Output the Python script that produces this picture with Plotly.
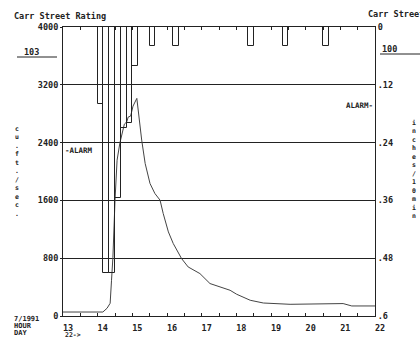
import plotly.graph_objects as go

# ---------------- data ----------------
# Flow hydrograph (hour of day 22nd, cu ft/sec)
flow_hours = [13.00, 14.15, 14.27, 14.36, 14.40, 14.44, 14.50, 14.56, 14.64, 14.70,
              14.77, 14.84, 14.88, 14.95, 15.02, 15.13, 15.19, 15.27, 15.37, 15.51,
              15.65, 15.80, 15.89, 16.04, 16.18, 16.42, 16.61, 16.95, 17.24, 17.53,
              17.82, 18.01, 18.40, 18.78, 19.16, 19.55, 21.08, 21.18, 21.33, 22.00]
flow_cfs = [55, 55, 107, 176, 495, 813, 1603, 2157, 2393, 2504,
            2656, 2688, 2753, 2767, 2905, 3012, 2739, 2434, 2111, 1834,
            1696, 1603, 1419, 1164, 1003, 795, 679, 587, 449, 398,
            356, 301, 218, 180, 172, 162, 172, 162, 139, 139]

# Rainfall (start of 10-minute interval, inches / 10 min)
rain_start = ["14:00", "14:10", "14:20", "14:30", "14:40", "14:50", "15:00",
              "15:30", "16:10", "18:20", "19:20", "20:30"]
rain_in = [0.16, 0.51, 0.51, 0.355, 0.21, 0.20, 0.08,
           0.04, 0.04, 0.04, 0.04, 0.04]

hour_ticks = [13, 14, 15, 16, 17, 18, 19, 20, 21, 22]
hour_labels = ["13", "14", "15", "16", "17", "18", "19", "20", "21", "22"]
flow_ticks = [0, 800, 1600, 2400, 3200, 4000]
flow_labels = ["0", "800", "1600", "2400", "3200", "4000"]
rain_ticks = [0, 0.12, 0.24, 0.36, 0.48, 0.6]
rain_labels = ["0", ".12", ".24", ".36", ".48", ".6"]

# ---------------- figure ----------------
W, H = 420, 339
L, R, T, B = 63, 45, 27, 23
FONT = "DejaVu Sans Mono"
INK = "#222222"

def hhmm(s):
    h, m = s.split(":")
    return int(h) + int(m) / 60.0

rain_x = [hhmm(s) for s in rain_start]

fig = go.Figure()
fig.add_trace(go.Bar(
    x=rain_x, y=rain_in, width=[1 / 6] * len(rain_x), offset=0,
    yaxis="y2", marker=dict(color="rgba(0,0,0,0)", line=dict(color=INK, width=1)),
    showlegend=False, hoverinfo="skip"))
fig.add_trace(go.Scatter(
    x=flow_hours, y=flow_cfs, mode="lines",
    line=dict(color="#444444", width=1), showlegend=False))

def px(x):
    return (x - L) / (W - L - R)

def py(y):
    return (H - B - y) / (H - T - B)

ann = []
def text(x, y, s, anchor="left", size=8.5, yanchor="middle"):
    ann.append(dict(x=px(x), y=py(y), xref="paper", yref="paper", text=s,
                    showarrow=False, xanchor=anchor, yanchor=yanchor,
                    font=dict(family=FONT, size=size, color=INK, weight="bold")))

text(12, 16, "Carr Street Rating")
text(366, 14, "Carr Street")
text(22, 52, "103")
text(380, 49, "100")
text(63, 150, "-ALARM", size=7.5)
text(375, 105, "ALARM-", anchor="right", size=7.5)
text(12, 319, "7/1991", size=7)
text(12, 326, "HOUR", size=7)
text(12, 333, "DAY", size=7)
text(63, 335, "22->", size=6.5)
text(17, 171, "<br>".join(list("cu.ft./sec.")), anchor="center", size=6.5)
text(414, 169, "<br>".join(list("inches/10min")), anchor="center", size=6.5)

shapes = [
    dict(type="line", xref="paper", yref="paper", x0=px(17), x1=px(57), y0=py(57), y1=py(57),
         line=dict(color=INK, width=1)),
    dict(type="line", xref="paper", yref="paper", x0=px(380), x1=px(420), y0=py(54), y1=py(54),
         line=dict(color=INK, width=1)),
]

fig.update_layout(
    width=W, height=H, autosize=False, margin=dict(l=L, r=R, t=T, b=B, pad=0, autoexpand=False),
    paper_bgcolor="white", plot_bgcolor="white",
    font=dict(family=FONT, size=8.5, color=INK, weight="bold"),
    bargap=0, barmode="overlay",
    xaxis=dict(range=[13, 22], tickvals=hour_ticks, ticktext=hour_labels, automargin=False,
               showgrid=False, zeroline=False, showline=True, linecolor=INK, linewidth=1,
               mirror="ticks", ticks="inside", ticklen=3, tickcolor=INK,
               minor=dict(dtick=0.5, tick0=13, ticks="inside", ticklen=3, tickcolor=INK),
               ticklabelshift=5, ticklabelstandoff=4,
               tickfont=dict(family=FONT, size=8.5, color=INK, weight="bold")),
    yaxis=dict(range=[0, 4000], tickvals=flow_ticks, ticktext=flow_labels, automargin=False,
               showgrid=True, gridcolor=INK, gridwidth=1, zeroline=False,
               showline=True, linecolor=INK, linewidth=1,
               ticks="outside", ticklen=2, tickcolor=INK, ticklabelstandoff=0,
               tickfont=dict(family=FONT, size=8.5, color=INK, weight="bold")),
    yaxis2=dict(range=[0.6, 0], overlaying="y", side="right", anchor="x", automargin=False,
                tickvals=rain_ticks, ticktext=rain_labels, showgrid=False, zeroline=False,
                showline=True, linecolor=INK, linewidth=1, ticks="", ticklabelstandoff=0,
                tickfont=dict(family=FONT, size=8.5, color=INK, weight="bold")),
    annotations=ann, shapes=shapes,
)

fig.write_html("out.html", config={"displayModeBar": False},
               post_script="document.body.style.margin='0';document.body.style.overflow='hidden';")
